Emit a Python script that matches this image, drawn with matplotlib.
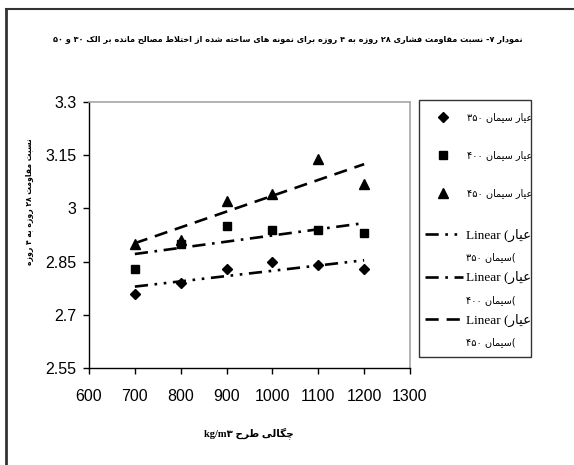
import matplotlib
matplotlib.use("Agg")
import matplotlib.pyplot as plt
import numpy as np
from matplotlib.lines import Line2D
from matplotlib.patches import Rectangle

# data
density = [700, 800, 900, 1000, 1100, 1200]
ratio_350 = [2.76, 2.79, 2.83, 2.85, 2.84, 2.83]
ratio_400 = [2.83, 2.90, 2.95, 2.94, 2.94, 2.93]
ratio_450 = [2.90, 2.91, 3.02, 3.04, 3.14, 3.07]

series_names = ["عیار سیمان ۳۵۰", "عیار سیمان ۴۰۰", "عیار سیمان ۴۵۰"]
title_txt = "نمودار ۷- نسبت مقاومت فشاری ۲۸ روزه به ۴ روزه برای نمونه های ساخته شده از اختلاط مصالح مانده بر الک ۳۰ و ۵۰"
ylabel_txt = "نسبت مقاومت ۲۸ روزه به ۴ روزه"
xlabel_txt = "چگالی طرح kg/m۳"

xticks = [600, 700, 800, 900, 1000, 1100, 1200, 1300]
yticks = [2.55, 2.7, 2.85, 3.0, 3.15, 3.3]
ytick_labels = ["2.55", "2.7", "2.85", "3", "3.15", "3.3"]

# --- minimal arabic/persian shaping (matplotlib has no shaping / bidi) ---
# (isolated, final, initial, medial) ; None = does not join to the next letter
FORMS = {
    "ا": ("\uFE8D", "\uFE8E", None, None),
    "ب": ("\uFE8F", "\uFE90", "\uFE91", "\uFE92"),
    "ت": ("\uFE95", "\uFE96", "\uFE97", "\uFE98"),
    "ج": ("\uFE9D", "\uFE9E", "\uFE9F", "\uFEA0"),
    "ح": ("\uFEA1", "\uFEA2", "\uFEA3", "\uFEA4"),
    "خ": ("\uFEA5", "\uFEA6", "\uFEA7", "\uFEA8"),
    "د": ("\uFEA9", "\uFEAA", None, None),
    "ر": ("\uFEAD", "\uFEAE", None, None),
    "ز": ("\uFEAF", "\uFEB0", None, None),
    "س": ("\uFEB1", "\uFEB2", "\uFEB3", "\uFEB4"),
    "ش": ("\uFEB5", "\uFEB6", "\uFEB7", "\uFEB8"),
    "ص": ("\uFEB9", "\uFEBA", "\uFEBB", "\uFEBC"),
    "ط": ("\uFEC1", "\uFEC2", "\uFEC3", "\uFEC4"),
    "ع": ("\uFEC9", "\uFECA", "\uFECB", "\uFECC"),
    "ف": ("\uFED1", "\uFED2", "\uFED3", "\uFED4"),
    "ق": ("\uFED5", "\uFED6", "\uFED7", "\uFED8"),
    "ک": ("\uFB8E", "\uFB8F", "\uFB90", "\uFB91"),
    "گ": ("\uFB92", "\uFB93", "\uFB94", "\uFB95"),
    "چ": ("\uFB7A", "\uFB7B", "\uFB7C", "\uFB7D"),
    "ل": ("\uFEDD", "\uFEDE", "\uFEDF", "\uFEE0"),
    "م": ("\uFEE1", "\uFEE2", "\uFEE3", "\uFEE4"),
    "ن": ("\uFEE5", "\uFEE6", "\uFEE7", "\uFEE8"),
    "ه": ("\uFEE9", "\uFEEA", "\uFEEB", "\uFEEC"),
    "و": ("\uFEED", "\uFEEE", None, None),
    "ی": ("\uFBFC", "\uFBFD", "\uFBFE", "\uFBFF"),
}


def shape(s):
    out = []
    prev_joins = False
    i = 0
    while i < len(s):
        c = s[i]
        if c == "ل" and i + 1 < len(s) and s[i + 1] == "ا":
            out.append("\uFEFC" if prev_joins else "\uFEFB")
            prev_joins = False
            i += 2
            continue
        if c not in FORMS:
            out.append(c)
            prev_joins = False
            i += 1
            continue
        iso, fin, ini, med = FORMS[c]
        nxt = s[i + 1] if i + 1 < len(s) else ""
        next_ok = ini is not None and nxt in FORMS
        if prev_joins and next_ok:
            g = med
        elif prev_joins:
            g = fin
        elif next_ok:
            g = ini
        else:
            g = iso
        out.append(g)
        prev_joins = ini is not None
        i += 1
    return "".join(out)


def is_ltr(c):
    return (c.isascii() and (c.isalnum() or c in "/.")) or "\u06F0" <= c <= "\u06F9"


def rtl(s):
    # visual order: reverse the rtl runs, keep digit / latin runs as they are
    s = shape(s)
    runs = []
    for c in s:
        kind = is_ltr(c)
        if runs and runs[-1][0] == kind:
            runs[-1][1].append(c)
        else:
            runs.append((kind, [c]))
    parts = []
    for kind, chars in reversed(runs):
        parts.append("".join(chars) if kind else "".join(reversed(chars)))
    return "".join(parts)


AR = ["DejaVu Sans"]
SERIF_AR = ["Liberation Serif", "DejaVu Sans"]
NUM = ["Liberation Sans Narrow", "Liberation Sans", "DejaVu Sans"]

fig = plt.figure(figsize=(5.74, 4.65), dpi=100)
ax = fig.add_axes([89 / 574, 1 - 368 / 465, (410 - 89) / 574, (368 - 102) / 465])

x = np.array(density)
styles = [
    ("D", 5.5, ratio_350, (0, (5, 2.5, 1, 2.5, 1, 2.5))),
    ("s", 5.5, ratio_400, (0, (5, 2.5, 1, 2.5))),
    ("^", 6.5, ratio_450, (0, (5, 3))),
]
point_handles = []
line_handles = []
for marker, ms, vals, ls in styles:
    y = np.array(vals)
    p, = ax.plot(x, y, linestyle="none", marker=marker, markersize=ms, color="black")
    point_handles.append(p)
    k, b = np.polyfit(x, y, 1)
    xx = np.array([x.min(), x.max()])
    ln, = ax.plot(xx, k * xx + b, color="black", linewidth=1.9, linestyle=ls)
    line_handles.append(ln)

ax.set_xlim(600, 1300)
ax.set_ylim(2.55, 3.3)
ax.set_xticks(xticks)
ax.set_xticklabels([str(v) for v in xticks], family=NUM, fontsize=11.5)
ax.set_yticks(yticks)
ax.set_yticklabels(ytick_labels, family=NUM, fontsize=11.5)
ax.tick_params(direction="out", length=4, width=1, colors="black")
ax.tick_params(axis="x", pad=11)
ax.tick_params(axis="y", pad=5)
for side in ["top", "right"]:
    ax.spines[side].set_color("#a6a6a6")
    ax.spines[side].set_linewidth(1.2)
for side in ["left", "bottom"]:
    ax.spines[side].set_color("black")
    ax.spines[side].set_linewidth(1)

fig.text(288 / 574, 1 - 40 / 465, rtl(title_txt), family=AR, fontweight="bold",
         fontsize=5.9, ha="center", va="center")
fig.text(30 / 574, 1 - 202 / 465, rtl(ylabel_txt), family=AR, fontweight="bold",
         fontsize=5.5, ha="center", va="center", rotation=90)
fig.text(249 / 574, 1 - 433 / 465, rtl(xlabel_txt), family=SERIF_AR, fontweight="bold",
         fontsize=7.5, ha="center", va="center")

# legend: markers part and trendline part inside one drawn box
leg_a = ax.legend(point_handles, [rtl(n) for n in series_names],
                  loc="upper left", bbox_to_anchor=(425 / 574, 1 - 112 / 465),
                  bbox_transform=fig.transFigure, frameon=False, numpoints=1,
                  prop={"family": AR, "size": 7}, handlelength=3.6,
                  handletextpad=0.7, labelspacing=2.9, borderpad=0, borderaxespad=0)
ax.add_artist(leg_a)

blank = Line2D([], [], linestyle="none")
lin_handles = []
lin_labels = []
for ln, name in zip(line_handles, series_names):
    word, rest = name.split(" ", 1)
    lin_handles += [ln, blank]
    lin_labels += ["Linear (" + rtl(word), rtl("(" + rest)]
leg_b = ax.legend(lin_handles, lin_labels,
                  loc="upper left", bbox_to_anchor=(425 / 574, 1 - 229 / 465),
                  bbox_transform=fig.transFigure, frameon=False,
                  prop={"family": SERIF_AR, "size": 9.5},
                  handlelength=2.9, handletextpad=0.2, labelspacing=0.68,
                  borderpad=0, borderaxespad=0)
for t in leg_b.get_texts()[1::2]:
    t.set_fontsize(7)
    t.set_family(AR)

fig.add_artist(Rectangle((419 / 574, 1 - 357 / 465), 112 / 574, 257 / 465,
                         transform=fig.transFigure, fill=False,
                         edgecolor="#333333", linewidth=1))

# frame lines of the cropped page
fig.add_artist(Line2D([6 / 574, 6 / 574], [0, 1 - 9 / 465], transform=fig.transFigure,
                      color="#333333", linewidth=2))
fig.add_artist(Line2D([6 / 574, 1], [1 - 9 / 465, 1 - 9 / 465], transform=fig.transFigure,
                      color="#333333", linewidth=1.5))

fig.savefig("out.png", dpi=100)
